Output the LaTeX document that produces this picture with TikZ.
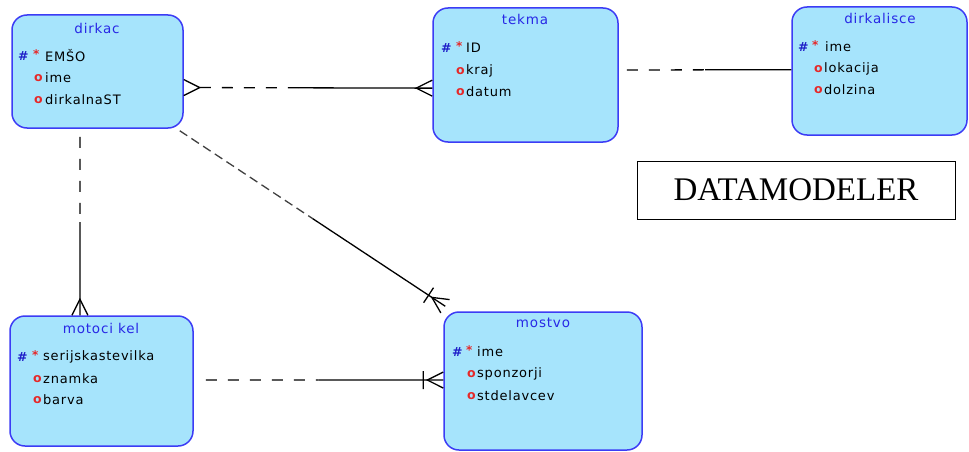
\documentclass[tikz,border=0pt]{standalone}
\usepackage{fontspec}
\setmainfont{Liberation Serif}
\newfontfamily\erfont[LetterSpace=6]{DejaVu Sans}
\usetikzlibrary{calc}
\definecolor{entfill}{RGB}{166,228,252}
\definecolor{entedge}{RGB}{60,60,245}
\definecolor{enttitle}{RGB}{40,40,230}
\definecolor{hashblue}{RGB}{30,30,200}
\definecolor{attrred}{RGB}{230,40,40}
\tikzset{
  entity/.style={draw=entedge, fill=entfill, line width=1.5pt, rounded corners=15pt, inner sep=0pt},
  enttitle/.style={text=enttitle, font=\erfont\fontsize{13.5}{14}\selectfont, inner sep=0pt},
  attrtxt/.style={anchor=west, text=black, font=\erfont\fontsize{13}{14}\selectfont, inner sep=0pt},
  hashsym/.style={anchor=west, text=hashblue, font=\erfont\bfseries\fontsize{12.5}{14}\selectfont, inner sep=0pt},
  starsym/.style={anchor=west, text=attrred, font=\erfont\bfseries\fontsize{12}{14}\selectfont, inner sep=0pt},
  osym/.style={anchor=west, text=attrred, font=\erfont\bfseries\fontsize{12.5}{14}\selectfont, inner sep=0pt},
  rel/.style={line width=1.3pt, black},
  reldash/.style={rel, dash pattern=on 11pt off 11pt}
}
% primary-key row: name, x of '#', x of '*', x of text, y, label
\newcommand\pkrow[6]{%
  \node[hashsym] (#1h) at (#2,#5) {\#};
  \node[starsym] (#1s) at (#3,#5-2) {*};
  \node[attrtxt] (#1t) at (#4,#5) {#6};}
% optional attribute row: name, x of 'o', x of text, y, label
\newcommand\oprow[5]{%
  \node[osym] (#1o) at (#2,#4) {o};
  \node[attrtxt] (#1t) at (#3,#4) {#5};}
% crow's foot: entity end, far end
\newcommand\crowfoot[2]{%
  \draw[rel] ($(#1)!8pt!90:(#2)$) -- ($(#1)!16pt!(#2)$) -- ($(#1)!8pt!-90:(#2)$);}
% bar across a connector: entity end, far end
\newcommand\onebar[2]{%
  \draw[rel] ($($(#1)!20pt!(#2)$)!9pt!90:(#2)$) -- ($($(#1)!20pt!(#2)$)!9pt!-90:(#2)$);}
\begin{document}
\begin{tikzpicture}[x=1pt, y=-1pt]
\useasboundingbox (0,0) rectangle (969,452);

% entities
\node[entity, minimum width=171pt, minimum height=113pt] (dirkac) at (97.5,71.5) {};
\node[entity, minimum width=185pt, minimum height=134pt] (tekma) at (525.5,75) {};
\node[entity, minimum width=175pt, minimum height=128pt] (dirkalisce) at (879.5,71) {};
\node[entity, minimum width=183pt, minimum height=130pt] (motocikel) at (101.5,381) {};
\node[entity, minimum width=198pt, minimum height=138pt] (mostvo) at (543,381) {};

% titles
\node[enttitle] (dirkacT) at (97,28) {dirkac};
\node[enttitle] (tekmaT) at (525,19) {tekma};
\node[enttitle] (dirkalisceT) at (880,18) {dirkalisce};
\node[enttitle] (motocikelT) at (101,328) {motoci kel};
\node[enttitle] (mostvoT) at (543,323) {mostvo};

% attributes
\pkrow{d1}{18}{33}{45}{56}{EMŠO}
\oprow{d2}{34}{45}{78}{ime}
\oprow{d3}{34}{45}{100}{dirkalnaST}

\pkrow{t1}{441}{456}{466}{48}{ID}
\oprow{t2}{456}{466}{71}{kraj}
\oprow{t3}{456}{466}{92}{datum}

\pkrow{k1}{798}{812}{825}{47}{ime}
\oprow{k2}{814}{824}{69}{lokacija}
\oprow{k3}{814}{824}{90}{dolzina}

\pkrow{m1}{17}{32}{43}{357}{serijskastevilka}
\oprow{m2}{33}{43}{379}{znamka}
\oprow{m3}{33}{43}{400}{barva}

\pkrow{s1}{452}{466}{477}{352}{ime}
\oprow{s2}{467}{477}{374}{sponzorji}
\oprow{s3}{467}{477}{396}{stdelavcev}

% connector end points on the entity borders
\coordinate (dkE) at ($(dirkac.north east)!0.64!(dirkac.south east)$);
\coordinate (tkW) at ($(tekma.north west)!0.597!(tekma.south west)$);
\coordinate (tkE) at ($(tekma.north east)!0.463!(tekma.south east)$);
\coordinate (klW) at ($(dirkalisce.north west)!0.49!(dirkalisce.south west)$);
\coordinate (dkS) at ($(dirkac.south west)!0.398!(dirkac.south east)$);
\coordinate (mkN) at ($(motocikel.north west)!0.383!(motocikel.north east)$);
\coordinate (dkSE) at ($(dirkac.south east)+(-4,2)$);
\coordinate (msNW) at ($(mostvo.north west)+(2,-5)$);
\coordinate (mkE) at ($(motocikel.north east)!0.492!(motocikel.south east)$);
\coordinate (msW) at ($(mostvo.north west)!0.493!(mostvo.south west)$);

% dirkac -- tekma
\coordinate (dkEc) at ($(dkE)!16pt!(tkW)$);
\draw[reldash] (dkEc) -- ($(dkE)!0.46!(tkW)$);
\draw[rel] ($(dkE)!0.46!(tkW)$) -- (tkW);
\crowfoot{dkE}{tkW}
\crowfoot{tkW}{dkE}

% tekma -- dirkalisce
\draw[reldash] ($(tkE)+(8,0)$) -- ($(tkE)!0.5!(klW)$);
\draw[rel] ($(tkE)!0.5!(klW)$) -- (klW);

% dirkac -- motocikel
\draw[reldash] ($(dkS)+(0,8)$) -- ($(dkS)!0.5!(mkN)$);
\draw[rel] ($(dkS)!0.5!(mkN)$) -- (mkN);
\crowfoot{mkN}{dkS}

% dirkac -- mostvo
\draw[reldash, dash pattern=on 9pt off 5pt, black!75] (dkSE) -- ($(dkSE)!0.5!(msNW)$);
\draw[rel] ($(dkSE)!0.5!(msNW)$) -- (msNW);
\crowfoot{msNW}{dkSE}
\onebar{msNW}{dkSE}

% motocikel -- mostvo
\draw[reldash] ($(mkE)+(12,0)$) -- ($(mkE)!0.5!(msW)$);
\draw[rel] ($(mkE)!0.5!(msW)$) -- (msW);
\crowfoot{msW}{mkE}
\onebar{msW}{mkE}

% caption box
\node[draw=black, line width=0.8pt, minimum width=318pt, minimum height=58pt, inner sep=0pt,
      font=\fontsize{33}{33}\selectfont] (caption) at (796,190) {DATAMODELER};
\end{tikzpicture}
\end{document}
